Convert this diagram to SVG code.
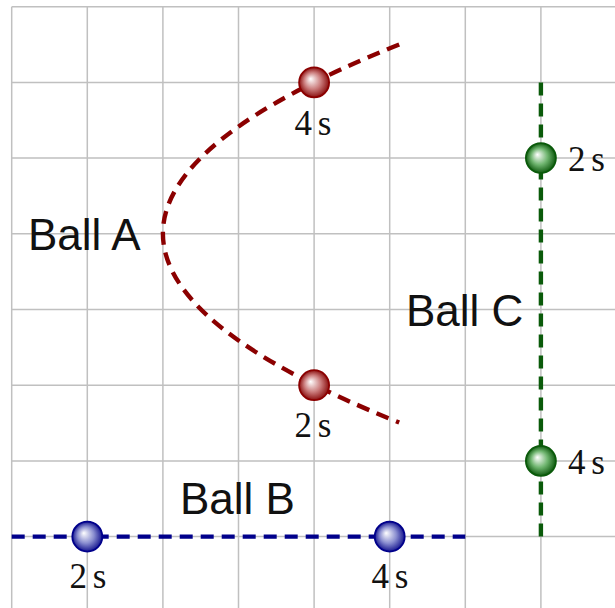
<svg xmlns="http://www.w3.org/2000/svg" width="615" height="608" viewBox="0 0 615 608">
<style>
.grid{stroke:#c0c0c0;stroke-width:1.5;fill:none}
.path{fill:none;stroke-width:4.4;stroke-dasharray:13 8}
.lbl{font-family:"Liberation Sans","DejaVu Sans",sans-serif;font-size:44px;fill:#111}
.t{font-family:"Liberation Serif","DejaVu Serif",serif;font-size:35px;fill:#111;word-spacing:-3px}
</style>
<defs>
<radialGradient id="gr" cx="0.5" cy="0.5" r="0.5" fx="0.38" fy="0.38">
<stop offset="0" stop-color="#ffffff"/><stop offset="0.55" stop-color="#cc7f7f"/><stop offset="1" stop-color="#8b1010"/>
</radialGradient>
<radialGradient id="gg" cx="0.5" cy="0.5" r="0.5" fx="0.38" fy="0.38">
<stop offset="0" stop-color="#ffffff"/><stop offset="0.55" stop-color="#6fb56f"/><stop offset="1" stop-color="#0f5a0f"/>
</radialGradient>
<radialGradient id="gb" cx="0.5" cy="0.5" r="0.5" fx="0.38" fy="0.38">
<stop offset="0" stop-color="#ffffff"/><stop offset="0.55" stop-color="#8a8ed0"/><stop offset="1" stop-color="#15158f"/>
</radialGradient>
</defs>
<rect width="615" height="608" fill="#ffffff"/>
<g id="grid" class="grid">
<path d="M11.7 6.7V608M87.3 6.7V608M162.9 6.7V608M238.5 6.7V608M314.1 6.7V608M389.7 6.7V608M465.3 6.7V608M540.9 6.7V608"/>
<path d="M11.7 6.7H615M11.7 82.4H615M11.7 158.1H615M11.7 233.8H615M11.7 309.5H615M11.7 385.2H615M11.7 460.9H615M11.7 536.6H615"/>
</g>
<g id="connectors">
<path class="path" stroke="#8b0000" d="M399.2 44.5Q-73.4 233.5 399.2 422.5"/>
<path class="path" stroke="#00008b" d="M11.7 536.6H465.3"/>
<path class="path" stroke="#0a5a0a" d="M540.9 82.4V536.6"/>
</g>
<g id="ballA">
<circle cx="314.1" cy="82.4" r="15" fill="url(#gr)" stroke="#8b0000" stroke-width="1.8"/>
<circle cx="314.1" cy="385.2" r="15" fill="url(#gr)" stroke="#8b0000" stroke-width="1.8"/>
<text class="t" x="313" y="135" text-anchor="middle">4 s</text>
<text class="t" x="313" y="437" text-anchor="middle">2 s</text>
<text class="lbl" x="28" y="250">Ball A</text>
</g>
<g id="ballB">
<circle cx="87.3" cy="536.6" r="15" fill="url(#gb)" stroke="#00008b" stroke-width="1.8"/>
<circle cx="389.7" cy="536.6" r="15" fill="url(#gb)" stroke="#00008b" stroke-width="1.8"/>
<text class="t" x="88" y="588" text-anchor="middle">2 s</text>
<text class="t" x="390" y="588" text-anchor="middle">4 s</text>
<text class="lbl" x="180" y="514">Ball B</text>
</g>
<g id="ballC">
<circle cx="540.9" cy="158.1" r="15" fill="url(#gg)" stroke="#0a5a0a" stroke-width="1.8"/>
<circle cx="540.9" cy="460.9" r="15" fill="url(#gg)" stroke="#0a5a0a" stroke-width="1.8"/>
<text class="t" x="568" y="171">2 s</text>
<text class="t" x="568" y="474">4 s</text>
<text class="lbl" x="406" y="326">Ball C</text>
</g>
</svg>
